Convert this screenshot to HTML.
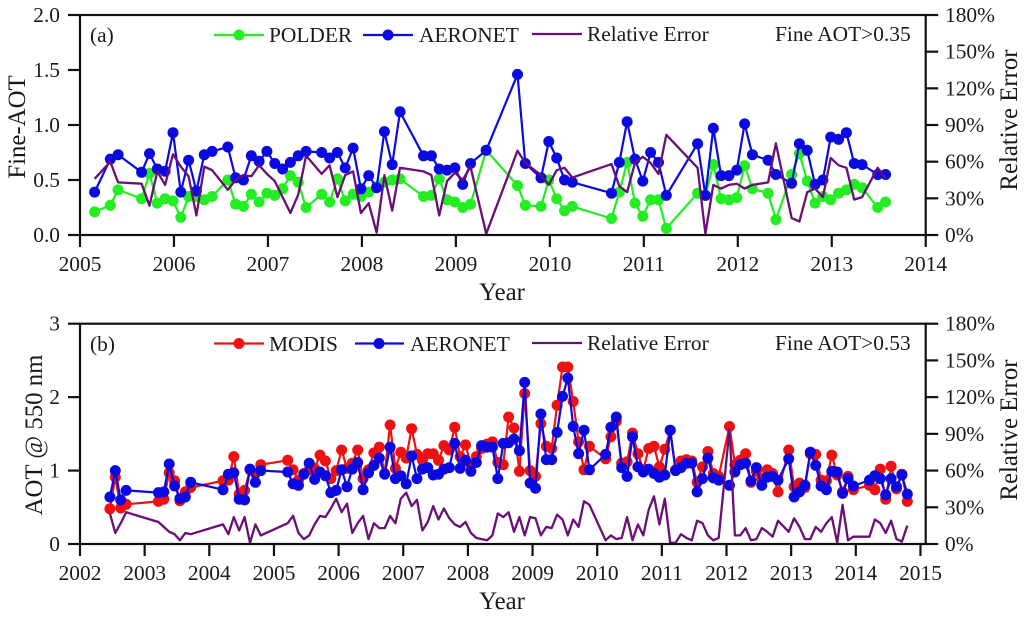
<!DOCTYPE html>
<html lang="en">
<head>
<meta charset="utf-8">
<title>Fine-AOT and AOT comparison</title>
<style>
html,body{margin:0;padding:0;background:#fff;}
svg{display:block;filter:blur(0.3px);}
text{font-family:"Liberation Serif",serif;fill:#1a1a1a;font-size:21.4px;}
.title{font-size:24.8px;}
</style>
</head>
<body>
<svg id="chart" width="1024" height="618" viewBox="0 0 1024 618" xmlns="http://www.w3.org/2000/svg">
  <g>
    <text x="90" y="42">(a)</text>
    <line x1="214" x2="264" y1="35" y2="35" stroke="#22ee22" stroke-width="2.2"/>
    <circle cx="239" cy="35" r="5.5" fill="#22ee22"/>
    <text x="269" y="42">POLDER</text>
    <line x1="363" x2="413" y1="35" y2="35" stroke="#0a0ae0" stroke-width="2.2"/>
    <circle cx="388" cy="35" r="5.5" fill="#0a0ae0"/>
    <text x="419" y="42">AERONET</text>
    <line x1="532" x2="582" y1="34" y2="34" stroke="#6a0f78" stroke-width="2.2"/>
    <text x="587" y="41">Relative Error</text>
    <text x="775" y="41">Fine AOT&gt;0.35</text>
  </g>
  <g>
    <text x="90" y="351">(b)</text>
    <line x1="214" x2="264" y1="343.5" y2="343.5" stroke="#ee1111" stroke-width="2.2"/>
    <circle cx="239" cy="343.5" r="5.5" fill="#ee1111"/>
    <text x="269" y="351">MODIS</text>
    <line x1="355" x2="404" y1="343.5" y2="343.5" stroke="#0a0ae0" stroke-width="2.2"/>
    <circle cx="379" cy="343.5" r="5.5" fill="#0a0ae0"/>
    <text x="410" y="351">AERONET</text>
    <line x1="532" x2="582" y1="343" y2="343" stroke="#6a0f78" stroke-width="2.2"/>
    <text x="587" y="350">Relative Error</text>
    <text x="775" y="350">Fine AOT&gt;0.53</text>
  </g>
  <text class="title" transform="translate(25,127) rotate(-90)" text-anchor="middle">Fine-AOT</text>
  <text class="title" transform="translate(42,435) rotate(-90)" text-anchor="middle">AOT @ 550 nm</text>
  <text class="title" transform="translate(1017,120) rotate(-90)" text-anchor="middle">Relative Error</text>
  <text class="title" transform="translate(1017,430) rotate(-90)" text-anchor="middle">Relative Error</text>
  <text class="title" x="502" y="300" text-anchor="middle">Year</text>
  <text class="title" x="502" y="609" text-anchor="middle">Year</text>
</svg>
<script>
// Panel (a): months counted from January 2005
const monthsA = [2,4,5,8,9,10,11,12,13,14,15,16,17,19,20,21,22,23,24,25,26,27,28,29,31,32,33,34,35,36,37,38,39,40,41,44,45,46,47,48,49,50,52,56,57,59,60,61,62,63,68,69,70,71,72,73,74,75,79,80,81,82,83,84,85,86,88,89,91,92,93,94,95,96,97,98,99,100,102,103];
const polderA = [.21,.27,.41,.33,.56,.29,.33,.31,.16,.35,.35,.32,.35,.50,.28,.26,.37,.30,.38,.36,.42,.54,.48,.25,.37,.30,.51,.31,.37,.35,.39,.44,.48,.50,.51,.35,.36,.51,.32,.30,.25,.28,.77,.45,.27,.26,.50,.33,.22,.26,.15,.39,.66,.29,.17,.32,.32,.06,.38,.36,.64,.33,.32,.34,.63,.42,.38,.14,.55,.74,.49,.29,.35,.32,.38,.41,.46,.43,.25,.30];
const aeronetA = [.39,.69,.73,.57,.74,.60,.58,.93,.39,.68,.40,.73,.76,.80,.52,.50,.72,.67,.76,.65,.60,.66,.72,.76,.75,.70,.75,.61,.79,.42,.54,.43,.94,.64,1.12,.72,.72,.60,.59,.61,.46,.65,.77,1.46,.65,.52,.85,.70,.50,.48,.38,.66,1.03,.69,.49,.75,.66,.36,.83,.36,.97,.54,.54,.59,1.01,.73,.68,.55,.47,.83,.77,.46,.50,.89,.87,.93,.65,.64,.55,.55];
const errorA = [46,60,43,42,24,52,41,66,56,48,16,56,53,37,45,49,48,57,50,44,31,18,33,65,50,57,31,49,52,18,26,2,49,20,55,52,49,16,44,51,45,56,1,69,59,49,41,53,55,47,58,40,35,59,64,59,50,82,55,1,41,38,41,42,38,41,43,75,14,11,35,38,31,63,57,55,29,31,55,46];
const xTicksA = [2005,2006,2007,2008,2009,2010,2011,2012,2013,2014];
const yTicksA = ["0.0","0.5","1.0","1.5","2.0"];
const errTicks = [0,30,60,90,120,150,180];

// Panel (b): months counted from January 2002
const monthsB = [5,6,7,8,14,15,16,17,18,19,20,26,27,28,29,30,31,32,33,38,39,40,41,42,43,44,45,46,47,48,49,50,51,52,53,54,55,56,57,58,59,60,61,62,63,64,65,66,67,68,69,70,71,72,73,74,75,76,77,78,79,80,81,82,83,84,85,86,87,88,89,90,91,92,93,94,97,98,99,100,101,102,103,104,105,106,107,108,109,110,111,112,113,114,115,116,117,118,120,121,122,123,124,125,126,127,128,129,131,132,133,134,135,136,137,138,139,140,141,142,143,146,147,148,149,150,151,152,153];
const modisB = [.48,.91,.49,.54,.58,.61,.97,.86,.59,.71,.77,.86,.87,1.19,.68,.73,1.01,.96,1.08,1.14,1.01,.87,.96,1.01,1.03,1.21,1.13,.89,1.00,1.28,1.03,1.10,1.28,.89,1.01,1.24,1.32,.96,1.62,1.03,1.25,1.17,1.57,1.22,1.14,1.23,1.23,1.14,1.34,1.28,1.59,1.19,1.35,1.08,1.19,1.30,1.36,1.39,1.11,1.08,1.73,1.58,.99,2.05,1.00,.92,1.64,1.33,1.30,1.89,2.41,2.41,1.94,1.39,1.01,1.33,1.16,1.46,1.67,1.10,1.12,1.51,1.23,1.01,1.30,1.33,1.05,1.29,1.55,1.01,1.13,1.15,1.13,.84,1.05,1.26,.96,.92,1.60,1.08,1.14,1.23,.84,.99,.89,1.01,.96,.71,1.28,.78,.83,.77,1.23,1.22,.87,.86,1.21,.94,.71,.92,.74,.80,.74,1.02,.61,1.06,.75,.95,.58];
const aeronetB = [.64,1.00,.60,.73,.70,.71,1.09,.79,.62,.64,.84,.74,.95,.97,.61,.60,1.02,.84,1.00,.98,.82,.80,.95,1.10,.88,.98,.93,.70,.73,1.01,.78,1.02,1.11,.74,.97,1.07,1.17,.95,1.32,.89,.93,.82,1.20,.89,1.02,1.04,.94,.95,1.02,1.04,1.37,1.03,1.14,.99,1.11,1.34,1.32,1.32,.89,1.37,1.38,1.43,1.27,2.20,.83,.76,1.77,1.15,1.15,1.52,2.01,2.26,1.60,1.23,1.55,1.01,1.22,1.59,1.73,1.04,.92,1.46,1.05,.98,1.02,.96,.91,.94,1.55,1.00,1.04,1.10,1.10,.71,.89,1.17,.90,.87,.80,.98,1.08,1.10,.86,1.04,.80,.91,.92,.87,1.16,.64,.71,.80,1.25,1.07,.79,.74,.99,.98,.69,.89,.79,.87,.93,.89,.67,.89,.78,.94,.68];
const errorB = [25,9,17,26,18,14,10,8,3,9,8,16,8,22,11,22,1,16,7,17,23,9,4,7,16,23,22,29,37,26,33,9,17,23,4,17,13,13,23,17,37,42,31,36,11,18,31,20,29,21,16,14,18,9,5,4,3,7,25,22,26,10,22,7,22,21,7,14,13,24,20,7,20,14,35,32,3,7,4,5,22,3,16,7,28,39,16,37,1,1,8,5,3,19,17,7,3,5,94,7,7,13,3,4,13,10,6,19,10,21,14,4,4,14,10,17,22,1,32,3,6,6,20,17,9,19,4,2,15];
const xTicksB = [2002,2003,2004,2005,2006,2007,2008,2009,2010,2011,2012,2013,2014,2015];
const yTicksB = ["0","1","2","3"];

const BLUE = "#0a0ae0", GREEN = "#22ee22", RED = "#ee1111", PURPLE = "#6a0f78", INK = "#111";
const svg = document.getElementById("chart");
const NS = "http://www.w3.org/2000/svg";
const LEFT = 80, RIGHT = 925.7;

function make(tag, parent, attrs) {
  const el = document.createElementNS(NS, tag);
  for (const k in attrs) el.setAttribute(k, attrs[k]);
  parent.appendChild(el);
  return el;
}

function buildPanel(p) {
  const x = year => LEFT + (year - p.x0) * p.pxPerYear;
  const y = v => p.bottom - v / p.yMax * (p.bottom - p.top);
  const yErr = e => p.bottom - e / 180 * (p.bottom - p.top);
  const xm = m => x(p.x0 + (m + p.monthShift) / 12);

  const group = make("g", svg, {});
  
  

  // series
  p.series.forEach(s => {
    const g = make("g", group, {});
    
    
    const pts = p.months.map((m, i) => xm(m).toFixed(1) + "," + y(s.values[i]).toFixed(1)).join(" ");
    const line = make("polyline", g, { points: pts, fill: "none", stroke: s.color, "stroke-width": 2.2, "stroke-linejoin": "round" });
    
    
    p.months.forEach((m, i) => {
      const c = make("circle", g, { cx: xm(m).toFixed(1), cy: y(s.values[i]).toFixed(1), r: 5.5, fill: s.color });
      
      
    });
  });
  const errPts = p.months.map((m, i) => xm(m).toFixed(1) + "," + yErr(p.errors[i]).toFixed(1)).join(" ");
  const errLine = make("polyline", group, { points: errPts, fill: "none", stroke: PURPLE, "stroke-width": 2.3, "stroke-linejoin": "round" });
  
  

  // axes
  const axes = make("g", group, { stroke: INK, "stroke-width": 2.2 });
  
  
  make("rect", axes, { x: LEFT, y: p.top, width: RIGHT - LEFT, height: p.bottom - p.top, fill: "none" });

  p.xTicks.forEach(t => {
    const px = x(t);
    make("line", axes, { x1: px, x2: px, y1: p.bottom, y2: p.bottom + 12 });
    const label = make("text", group, { x: px.toFixed(1), y: p.bottom + 36, "text-anchor": "middle" });
    
    
    label.textContent = t;
  });
  p.yTicks.forEach(t => {
    const py = y(parseFloat(t));
    make("line", axes, { x1: LEFT - 12, x2: LEFT, y1: py, y2: py });
    const label = make("text", group, { x: 60, y: (py + 7).toFixed(1), "text-anchor": "end" });
    
    
    label.textContent = t;
  });
  errTicks.forEach(t => {
    const py = yErr(t);
    make("line", axes, { x1: RIGHT, x2: RIGHT + 12.5, y1: py, y2: py });
    const label = make("text", group, { x: 945, y: (py + 7).toFixed(1) });
    
    
    label.textContent = t + "%";
  });
}

buildPanel({
  id: "a", x0: 2005, pxPerYear: 93.97, top: 15, bottom: 235, yMax: 2, monthShift: -0.13,
  months: monthsA, errors: errorA, xTicks: xTicksA, yTicks: yTicksA,
  series: [
    { name: "polder", values: polderA, color: GREEN },
    { name: "aeronet", values: aeronetA, color: BLUE }
  ]
});
buildPanel({
  id: "b", x0: 2002, pxPerYear: 64.65, top: 323.7, bottom: 544, yMax: 3, monthShift: 0.55,
  months: monthsB, errors: errorB, xTicks: xTicksB, yTicks: yTicksB,
  series: [
    { name: "modis", values: modisB, color: RED },
    { name: "aeronet", values: aeronetB, color: BLUE }
  ]
});
</script>
</body>
</html>
